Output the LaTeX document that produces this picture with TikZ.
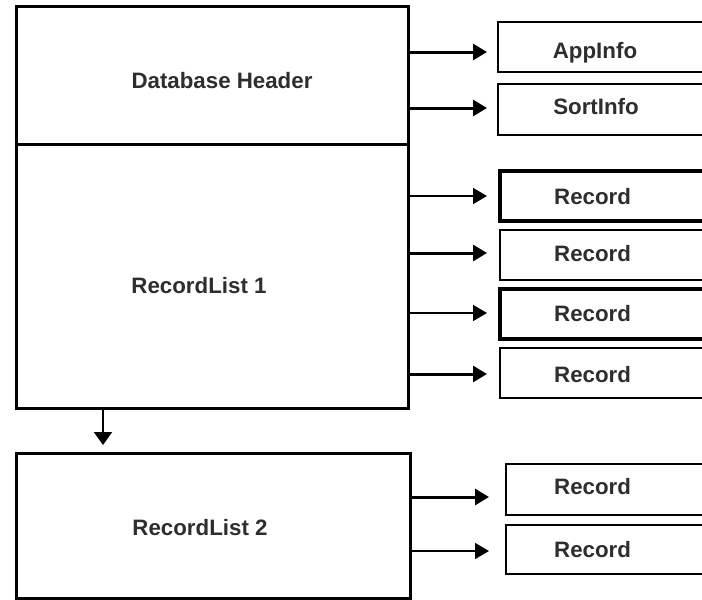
\documentclass[tikz,border=0pt]{standalone}
\usepackage{fontspec}
\setmainfont{Liberation Sans}
\usetikzlibrary{arrows.meta}
\begin{document}
\begin{tikzpicture}[x=1pt,y=-1pt,
  box/.style={draw=black, rectangle, anchor=north west, inner sep=0pt, outer sep=0pt},
  main/.style={box, line width=3pt},
  lbl/.style={font=\bfseries\fontsize{22.3}{26}\selectfont, text=black!82, inner sep=0pt, text height=16pt, text depth=0pt},
  arrthick/.style={line width=3pt, -{Triangle[length=14pt,width=16pt]}},
  arrthin/.style={line width=1.7pt, -{Triangle[length=14pt,width=16pt]}}]
\useasboundingbox (0,0) rectangle (702,600);
\clip (0,0) rectangle (702,600);
\fill[white] (0,0) rectangle (702,600);
% main boxes
\node[main, minimum width=392pt, minimum height=138pt] (dh) at (16,6) {};
\node[main, minimum width=392pt, minimum height=264pt] (rl1) at (16,144) {};
\node[main, minimum width=394pt, minimum height=145pt] (rl2) at (16,453) {};
\node[lbl] (tdh) at (222,80) {Database Header};
\node[lbl] (trl1) at (199,285) {RecordList 1};
\node[lbl] (trl2) at (200,527) {RecordList 2};
% right boxes
\node[box, line width=2.6pt, minimum width=230pt, minimum height=50pt] (app) at (498,22) {};
\node[box, line width=2pt, minimum width=230pt, minimum height=51pt] (sort) at (498,84) {};
\node[box, line width=3.4pt, minimum width=230pt, minimum height=50pt] (r1) at (500,171) {};
\node[box, line width=2pt, minimum width=230pt, minimum height=50pt] (r2) at (500,230) {};
\node[box, line width=3.4pt, minimum width=230pt, minimum height=50pt] (r3) at (500,289) {};
\node[box, line width=2pt, minimum width=230pt, minimum height=50pt] (r4) at (500,348) {};
\node[box, line width=2pt, minimum width=230pt, minimum height=51pt] (s1) at (506,464) {};
\node[box, line width=2.6pt, minimum width=230pt, minimum height=49pt] (s2) at (506,525) {};
\node[lbl] (tapp) at (595,50) {AppInfo};
\node[lbl] (tsort) at (596,106) {SortInfo};
\node[lbl, anchor=west] (tr1) at (554,196) {Record};
\node[lbl, anchor=west] (tr2) at (554,253) {Record};
\node[lbl, anchor=west] (tr3) at (554,313) {Record};
\node[lbl, anchor=west] (tr4) at (554,374) {Record};
\node[lbl, anchor=west] (ts1) at (554,486) {Record};
\node[lbl, anchor=west] (ts2) at (554,549) {Record};
% arrow end points
\coordinate (a1) at (487,52);
\coordinate (a2) at (487,108);
\coordinate (b1) at (487,196);
\coordinate (b2) at (487,253);
\coordinate (b3) at (487,313);
\coordinate (b4) at (487,374);
\coordinate (c1) at (489,497);
\coordinate (c2) at (489,551);
\coordinate (d) at (103,445);
% connectors
\draw[arrthick] (a1 -| dh.east) -- (a1);
\draw[arrthick] (a2 -| dh.east) -- (a2);
\draw[arrthin] (b1 -| rl1.east) -- (b1);
\draw[arrthick] (b2 -| rl1.east) -- (b2);
\draw[arrthin] (b3 -| rl1.east) -- (b3);
\draw[arrthick] (b4 -| rl1.east) -- (b4);
\draw[arrthick] (c1 -| rl2.east) -- (c1);
\draw[arrthin] (c2 -| rl2.east) -- (c2);
\draw[line width=2pt, -{Triangle[length=13pt,width=18pt]}] (d |- rl1.south) -- (d);
\end{tikzpicture}
\end{document}
